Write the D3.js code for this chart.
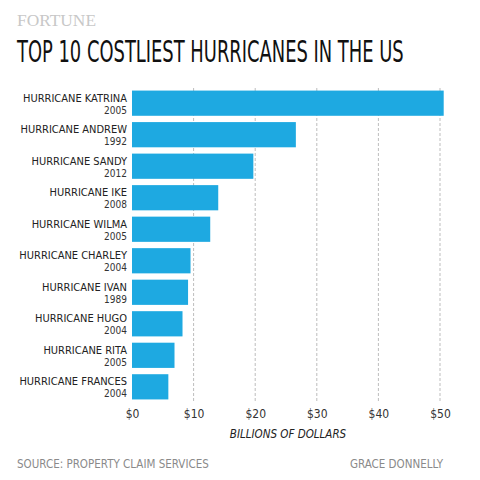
<!DOCTYPE html>
<html>
<head>
<meta charset="utf-8">
<script src="https://cdn.jsdelivr.net/npm/d3@7"></script>
<style>
  body { margin: 0; background: #fff; }
  svg text { font-family: "DejaVu Sans Condensed", "Liberation Sans Narrow", Roboto, sans-serif; }
</style>
</head>
<body>
<svg width="480" height="480"></svg>
<script>
const names = ["HURRICANE KATRINA", "HURRICANE ANDREW", "HURRICANE SANDY", "HURRICANE IKE",
  "HURRICANE WILMA", "HURRICANE CHARLEY", "HURRICANE IVAN", "HURRICANE HUGO",
  "HURRICANE RITA", "HURRICANE FRANCES"];
const years = ["2005", "1992", "2012", "2008", "2005", "2004", "1989", "2004", "2005", "2004"];
const costs = [50.6, 26.6, 19.7, 14.0, 12.7, 9.5, 9.1, 8.2, 6.9, 5.9];
const ticks = [0, 10, 20, 30, 40, 50];

const svg = d3.select("svg");
const margin = { left: 132, right: 40, top: 89, bottom: 79 };

const x = d3.scaleLinear().domain([0, 50]).range([margin.left, 480 - margin.right]);
const y = d3.scaleBand().domain(names).range([margin.top, 480 - margin.bottom]).paddingInner(0.2).paddingOuter(0.05);

// header
svg.append("text")
  .attr("x", 17).attr("y", 26)
  .style("font-family", "'Liberation Serif', 'DejaVu Serif', serif")
  .attr("font-size", 17)
  .attr("fill", "#c8c8c8")
  .attr("textLength", 79).attr("lengthAdjust", "spacingAndGlyphs")
  .text("FORTUNE");

const title = svg.append("text")
  .attr("font-size", 30)
  .attr("fill", "#111")
  .text("TOP 10 COSTLIEST HURRICANES IN THE US");
const tw = title.node().getComputedTextLength();
title.attr("transform", `translate(17,62) scale(${387 / tw},1)`);

// grid
svg.append("g")
  .selectAll("line")
  .data(ticks.slice(1))
  .join("line")
  .attr("x1", d => x(d)).attr("x2", d => x(d))
  .attr("y1", margin.top - 1).attr("y2", 480 - margin.bottom)
  .attr("stroke", "#bdbdbd")
  .attr("stroke-dasharray", "3,2");

// x axis labels
const xAxis = d3.axisBottom(x).tickValues(ticks).tickFormat(d => "$" + d).tickSize(0).tickPadding(0);
const ax = svg.append("g").attr("transform", "translate(0,409)").call(xAxis);
ax.select(".domain").remove();
ax.selectAll("text").attr("font-size", 12).attr("fill", "#333")
  .style("font-family", "'DejaVu Sans Condensed', 'Liberation Sans Narrow', Roboto, sans-serif");

// bars
svg.append("g")
  .selectAll("rect")
  .data(names)
  .join("rect")
  .attr("x", x(0))
  .attr("y", d => y(d))
  .attr("width", (d, i) => x(costs[i]) - x(0))
  .attr("height", y.bandwidth())
  .attr("fill", "#1ea9e1");

// category labels
const lab = svg.append("g")
  .selectAll("g")
  .data(names)
  .join("g")
  .attr("transform", d => `translate(127,${y(d)})`);

lab.append("text")
  .attr("text-anchor", "end")
  .attr("y", 11)
  .attr("font-size", 11)
  .attr("fill", "#222")
  .text(d => d);

lab.append("text")
  .attr("text-anchor", "end")
  .attr("y", 23)
  .attr("font-size", 10)
  .attr("fill", "#333")
  .text((d, i) => years[i]);

svg.append("text")
  .attr("x", (x(0) + x(50)) / 2 + 2).attr("y", 438)
  .attr("text-anchor", "middle")
  .attr("font-size", 11.5)
  .attr("font-style", "italic")
  .attr("fill", "#222")
  .text("BILLIONS OF DOLLARS");

svg.append("text")
  .attr("x", 17).attr("y", 468)
  .attr("font-size", 11.5)
  .attr("fill", "#8a8a8a")
  .text("SOURCE: PROPERTY CLAIM SERVICES");

svg.append("text")
  .attr("x", 443).attr("y", 468)
  .attr("text-anchor", "end")
  .attr("font-size", 11.5)
  .attr("fill", "#8a8a8a")
  .text("GRACE DONNELLY");
</script>
</body>
</html>
